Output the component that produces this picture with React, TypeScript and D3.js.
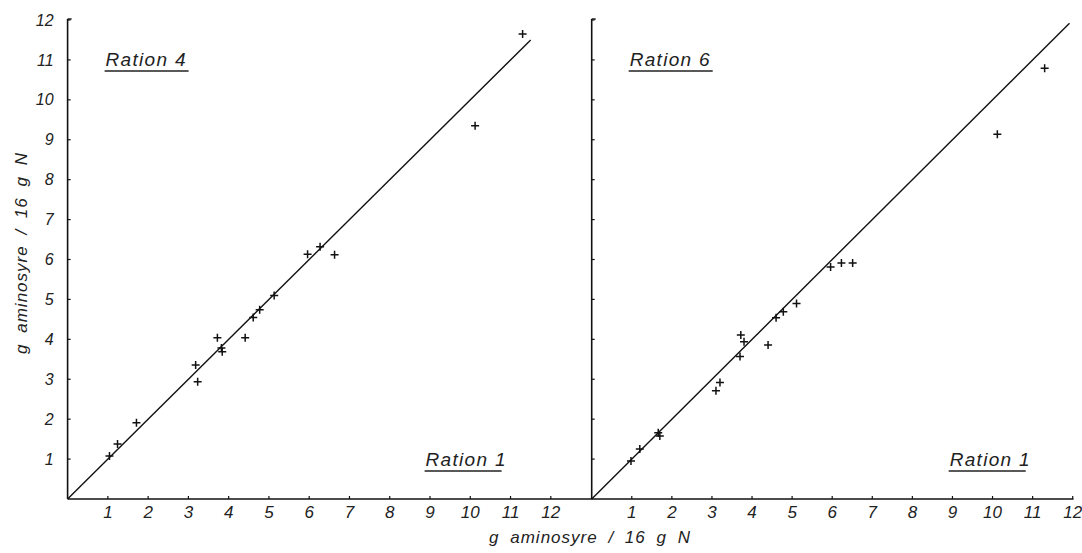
import React from "react";
import * as d3 from "d3";

const ticks = [1, 2, 3, 4, 5, 6, 7, 8, 9, 10, 11, 12];
const yTicks = [1, 2, 3, 4, 5, 6, 7, 8, 9, 10, 11, 12];

// Left panel: Ration 1 (x) vs Ration 4 (y)
const leftX = [1.04, 1.24, 1.71, 3.18, 3.23, 3.72, 3.82, 3.84, 4.41, 4.61, 4.77, 5.13, 5.96, 6.27, 6.63, 10.12, 11.3];
const leftY = [1.08, 1.38, 1.91, 3.36, 2.94, 4.04, 3.78, 3.69, 4.04, 4.55, 4.74, 5.1, 6.13, 6.32, 6.12, 9.35, 11.65];

// Right panel: Ration 1 (x) vs Ration 6 (y)
const rightX = [0.98, 1.2, 1.66, 1.7, 3.1, 3.2, 3.7, 3.72, 3.8, 4.4, 4.6, 4.78, 5.11, 5.96, 6.23, 6.51, 10.12, 11.3];
const rightY = [0.95, 1.25, 1.66, 1.58, 2.71, 2.92, 3.57, 4.11, 3.94, 3.86, 4.54, 4.69, 4.9, 5.81, 5.91, 5.91, 9.14, 10.79];

const leftLineEnd = 11.5;
const rightLineEnd = 11.92;

const FONT = "'Liberation Sans Narrow', 'Liberation Sans', Arial, sans-serif";

function Panel({ x0, x1, xs, ys, lineEnd, title, showYLabels }: any) {
  const x = d3.scaleLinear().domain([0, 12]).range([x0, x1]);
  const y = d3.scaleLinear().domain([0, 12]).range([499, 20]);
  const line = d3.line<number>().x((d) => x(d)).y((d) => y(d));
  const s = 4;
  return (
    <g>
      {/* y axis */}
      <line x1={x(0)} x2={x(0)} y1={y(0)} y2={y(12) - 1} stroke="#111" strokeWidth={1.6} />
      <line x1={x(0)} x2={x(0) + 4} y1={y(12) - 1} y2={y(12) - 1} stroke="#111" strokeWidth={1.4} />
      {yTicks.map((t) => (
        <line key={"yt" + t} x1={x(0)} x2={x(0) + 3} y1={y(t)} y2={y(t)} stroke="#111" strokeWidth={1.2} />
      ))}
      {showYLabels &&
        yTicks.map((t) => (
          <text key={"yl" + t} x={x(0) - 14} y={y(t)} dy="0.35em" textAnchor="end" fontSize={16} fontStyle="italic" fontFamily={FONT} fill="#222">
            {t}
          </text>
        ))}
      {/* x ticks */}
      {ticks.map((t) => (
        <line key={"xt" + t} x1={x(t)} x2={x(t)} y1={y(0)} y2={y(0) - 3} stroke="#111" strokeWidth={1.2} />
      ))}
      {ticks.map((t) => (
        <text key={"xl" + t} x={x(t)} y={518} textAnchor="middle" fontSize={17} fontStyle="italic" fontFamily={FONT} fill="#222">
          {t}
        </text>
      ))}
      {/* regression line y = x */}
      <path d={line([0, lineEnd]) || ""} stroke="#111" strokeWidth={1.4} fill="none" />
      {/* points */}
      {xs.map((v: number, i: number) => (
        <path
          key={"p" + i}
          d={`M${x(v) - s},${y(ys[i])}h${2 * s}M${x(v)},${y(ys[i]) - s}v${2 * s}`}
          stroke="#111"
          strokeWidth={1.5}
        />
      ))}
      {/* labels */}
      <text x={x(0) + 38} y={66} fontSize={19} fontStyle="italic" fontFamily={FONT} letterSpacing={1.3} fill="#222">
        {title}
      </text>
      <line x1={x(0) + 37} x2={x(0) + 121} y1={71} y2={71} stroke="#222" strokeWidth={1.5} />
      <text x={x(0) + 358} y={466} fontSize={19} fontStyle="italic" fontFamily={FONT} letterSpacing={1.3} fill="#222">
        Ration 1
      </text>
      <line x1={x(0) + 357} x2={x(0) + 434} y1={471} y2={471} stroke="#222" strokeWidth={1.5} />
    </g>
  );
}

export default function App() {
  return (
    <svg width={1082} height={553} style={{ position: "absolute", left: 0, top: 0, background: "#fff" }}>
      <rect width={1082} height={553} fill="#fff" />
      {/* continuous x axis */}
      <line x1={67.6} x2={1073.5} y1={499} y2={499} stroke="#111" strokeWidth={1.6} />
      <Panel x0={67.6} x1={550.8} xs={leftX} ys={leftY} lineEnd={leftLineEnd} title="Ration 4" showYLabels={true} />
      <Panel x0={591.7} x1={1072.7} xs={rightX} ys={rightY} lineEnd={rightLineEnd} title="Ration 6" showYLabels={false} />
      <text x={590} y={543} textAnchor="middle" fontSize={17} fontStyle="italic" fontFamily={FONT} letterSpacing={1} wordSpacing={5} fill="#222">
        g aminosyre / 16 g N
      </text>
      <text transform="translate(27,253) rotate(-90)" textAnchor="middle" fontSize={17} fontStyle="italic" fontFamily={FONT} letterSpacing={1} wordSpacing={5} fill="#222">
        g aminosyre / 16 g N
      </text>
    </svg>
  );
}
